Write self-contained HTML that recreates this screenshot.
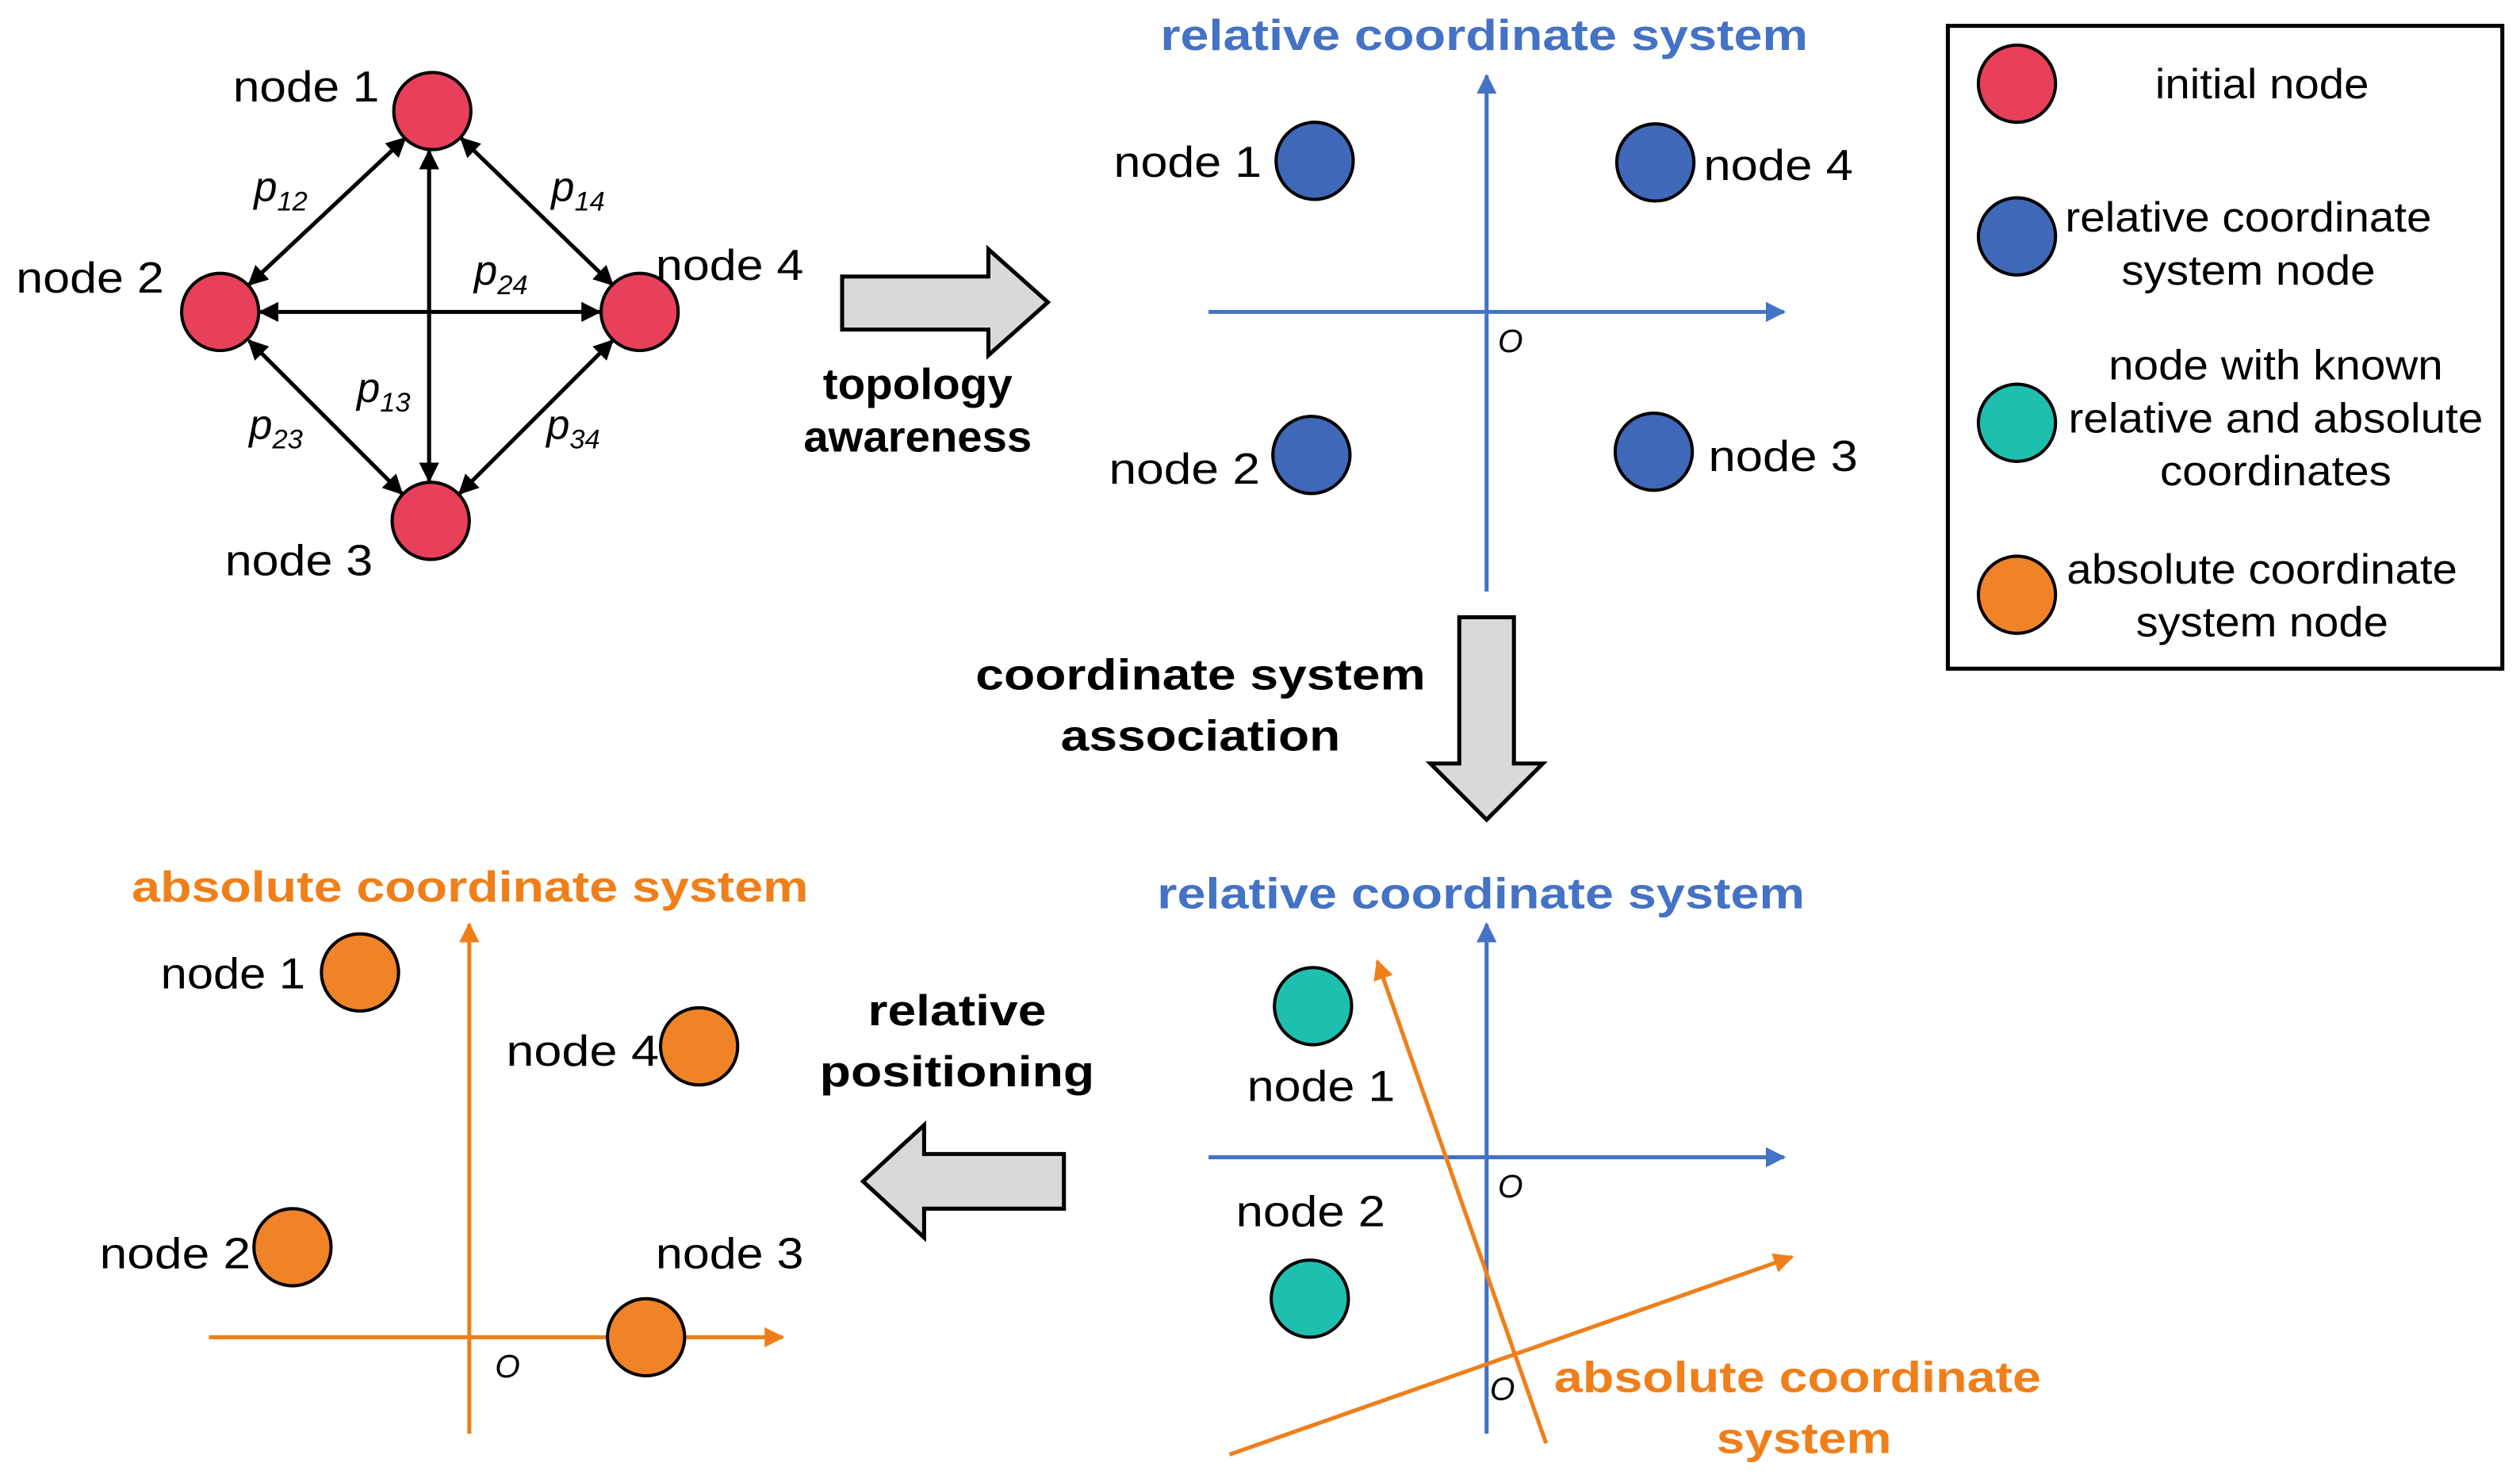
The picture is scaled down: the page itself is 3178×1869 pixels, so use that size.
<!DOCTYPE html>
<html><head><meta charset="utf-8"><style>
html,body{margin:0;padding:0;background:#fff}
svg{display:block}
text{font-family:"Liberation Sans",sans-serif}
.n{font-size:27px;fill:#000}
.p{font-family:"Liberation Serif",serif;font-style:italic;font-size:26px}
.b{font-weight:bold;font-size:27px}
.o{font-family:"Liberation Sans",sans-serif;font-style:italic;font-size:20px}
.lg{font-size:26px}
</style></head><body>
<svg width="3178" height="1869" viewBox="0 0 1568 922" xmlns="http://www.w3.org/2000/svg">
<defs>
<marker id="ak" viewBox="0 0 10 10" refX="9" refY="5" markerWidth="5" markerHeight="5" orient="auto-start-reverse"><path d="M0,0L10,5L0,10z" fill="#000"/></marker>
<marker id="ab" viewBox="0 0 10 10" refX="9" refY="5" markerWidth="5" markerHeight="5" orient="auto"><path d="M0,0L10,5L0,10z" fill="#4472c4"/></marker>
<marker id="ao" viewBox="0 0 10 10" refX="9" refY="5" markerWidth="5" markerHeight="5" orient="auto"><path d="M0,0L10,5L0,10z" fill="#ef7f1a"/></marker>
</defs>
<g stroke="#000" stroke-width="2.5" marker-start="url(#ak)" marker-end="url(#ak)">
<line x1="252" y1="86" x2="155" y2="177"/>
<line x1="287" y1="86" x2="381" y2="177"/>
<line x1="267" y1="94" x2="267" y2="299"/>
<line x1="162" y1="194" x2="373" y2="194"/>
<line x1="155" y1="212" x2="250" y2="307"/>
<line x1="381" y1="212" x2="286" y2="307"/>
</g>
<g fill="#e8405a" stroke="#000" stroke-width="2">
<circle cx="269" cy="69" r="24"/><circle cx="137" cy="194" r="24"/>
<circle cx="398" cy="194" r="24"/><circle cx="268" cy="324" r="24"/>
</g>
<g class="p">
<text x="158" y="125">p<tspan font-size="17" dy="6">12</tspan></text>
<text x="343" y="125">p<tspan font-size="17" dy="6">14</tspan></text>
<text x="295" y="177">p<tspan font-size="17" dy="6">24</tspan></text>
<text x="222" y="250">p<tspan font-size="17" dy="6">13</tspan></text>
<text x="155" y="273">p<tspan font-size="17" dy="6">23</tspan></text>
<text x="340" y="273">p<tspan font-size="17" dy="6">34</tspan></text>
</g>
<text class="n" x="145" y="63" textLength="91" lengthAdjust="spacingAndGlyphs">node 1</text>
<text class="n" x="10" y="182" textLength="92" lengthAdjust="spacingAndGlyphs">node 2</text>
<text class="n" x="408" y="174" textLength="92" lengthAdjust="spacingAndGlyphs">node 4</text>
<text class="n" x="140" y="358" textLength="92" lengthAdjust="spacingAndGlyphs">node 3</text>
<path d="M524,172H615V155L652,188L615,221V205H524Z" fill="#d9d9d9" stroke="#000" stroke-width="2.5"/>
<text class="b" x="512" y="248" textLength="118" lengthAdjust="spacingAndGlyphs">topology</text>
<text class="b" x="500" y="281" textLength="142" lengthAdjust="spacingAndGlyphs">awareness</text>
<text class="b" x="722" y="31" textLength="403" lengthAdjust="spacingAndGlyphs" fill="#4472c4" font-size="30">relative coordinate system</text>
<line x1="925" y1="368" x2="925" y2="47" stroke="#4472c4" stroke-width="2.5" marker-end="url(#ab)"/>
<line x1="752" y1="194" x2="1110" y2="194" stroke="#4472c4" stroke-width="2.5" marker-end="url(#ab)"/>
<text class="o" x="932" y="219">O</text>
<g fill="#4068b8" stroke="#000" stroke-width="2">
<circle cx="818" cy="100" r="24"/><circle cx="1030" cy="101" r="24"/>
<circle cx="816" cy="283" r="24"/><circle cx="1029" cy="281" r="24"/>
</g>
<text class="n" x="693" y="110" textLength="92" lengthAdjust="spacingAndGlyphs">node 1</text>
<text class="n" x="1060" y="112" textLength="93" lengthAdjust="spacingAndGlyphs">node 4</text>
<text class="n" x="690" y="301" textLength="94" lengthAdjust="spacingAndGlyphs">node 2</text>
<text class="n" x="1063" y="293" textLength="93" lengthAdjust="spacingAndGlyphs">node 3</text>
<rect x="1212" y="16" width="345" height="400" fill="none" stroke="#000" stroke-width="2.5"/>
<circle cx="1255" cy="52" r="24" fill="#e8405a" stroke="#000" stroke-width="2"/>
<circle cx="1255" cy="147" r="24" fill="#4068b8" stroke="#000" stroke-width="2"/>
<circle cx="1255" cy="263" r="24" fill="#1fbfb0" stroke="#000" stroke-width="2"/>
<circle cx="1255" cy="370" r="24" fill="#f08328" stroke="#000" stroke-width="2"/>
<g class="lg">
<text x="1341" y="61" textLength="133" lengthAdjust="spacingAndGlyphs">initial node</text>
<text x="1285" y="144" textLength="228" lengthAdjust="spacingAndGlyphs">relative coordinate</text>
<text x="1320" y="177" textLength="158" lengthAdjust="spacingAndGlyphs">system node</text>
<text x="1312" y="236" textLength="208" lengthAdjust="spacingAndGlyphs">node with known</text>
<text x="1287" y="269" textLength="258" lengthAdjust="spacingAndGlyphs">relative and absolute</text>
<text x="1344" y="302" textLength="144" lengthAdjust="spacingAndGlyphs">coordinates</text>
<text x="1286" y="363" textLength="243" lengthAdjust="spacingAndGlyphs">absolute coordinate</text>
<text x="1329" y="396" textLength="157" lengthAdjust="spacingAndGlyphs">system node</text>
</g>
<path d="M908,384H942V475H960L925,510L890,475H908Z" fill="#d9d9d9" stroke="#000" stroke-width="2.5"/>
<text class="b" x="607" y="429" textLength="280" lengthAdjust="spacingAndGlyphs">coordinate system</text>
<text class="b" x="660" y="467" textLength="174" lengthAdjust="spacingAndGlyphs">association</text>
<text class="b" x="720" y="565" textLength="403" lengthAdjust="spacingAndGlyphs" fill="#4472c4" font-size="30">relative coordinate system</text>
<line x1="925" y1="892" x2="925" y2="575" stroke="#4472c4" stroke-width="2.5" marker-end="url(#ab)"/>
<line x1="752" y1="720" x2="1110" y2="720" stroke="#4472c4" stroke-width="2.5" marker-end="url(#ab)"/>
<text class="o" x="932" y="745">O</text>
<line x1="962" y1="898" x2="857" y2="598" stroke="#ef7f1a" stroke-width="2.5" marker-end="url(#ao)"/>
<line x1="765" y1="905" x2="1115" y2="782" stroke="#ef7f1a" stroke-width="2.5" marker-end="url(#ao)"/>
<text class="o" x="927" y="871">O</text>
<g fill="#1fbfb0" stroke="#000" stroke-width="2">
<circle cx="817" cy="626" r="24"/><circle cx="815" cy="808" r="24"/>
</g>
<text class="n" x="776" y="685" textLength="92" lengthAdjust="spacingAndGlyphs">node 1</text>
<text class="n" x="769" y="763" textLength="93" lengthAdjust="spacingAndGlyphs">node 2</text>
<text class="b" x="967" y="866" textLength="303" lengthAdjust="spacingAndGlyphs" fill="#ef7f1a" font-size="30">absolute coordinate</text>
<text class="b" x="1068" y="904" textLength="109" lengthAdjust="spacingAndGlyphs" fill="#ef7f1a" font-size="30">system</text>
<path d="M662,718V752H575V770L537,735L575,700V718Z" fill="#d9d9d9" stroke="#000" stroke-width="2.5"/>
<text class="b" x="540" y="638" textLength="111" lengthAdjust="spacingAndGlyphs">relative</text>
<text class="b" x="510" y="676" textLength="171" lengthAdjust="spacingAndGlyphs">positioning</text>
<text class="b" x="82" y="561" textLength="421" lengthAdjust="spacingAndGlyphs" fill="#ef7f1a" font-size="30">absolute coordinate system</text>
<line x1="292" y1="892" x2="292" y2="575" stroke="#ef7f1a" stroke-width="2.5" marker-end="url(#ao)"/>
<line x1="130" y1="832" x2="487" y2="832" stroke="#ef7f1a" stroke-width="2.5" marker-end="url(#ao)"/>
<text class="o" x="308" y="857">O</text>
<g fill="#f08328" stroke="#000" stroke-width="2">
<circle cx="224" cy="605" r="24"/><circle cx="435" cy="651" r="24"/>
<circle cx="182" cy="776" r="24"/><circle cx="402" cy="832" r="24"/>
</g>
<text class="n" x="100" y="615" textLength="90" lengthAdjust="spacingAndGlyphs">node 1</text>
<text class="n" x="315" y="663" textLength="95" lengthAdjust="spacingAndGlyphs">node 4</text>
<text class="n" x="62" y="789" textLength="94" lengthAdjust="spacingAndGlyphs">node 2</text>
<text class="n" x="408" y="789" textLength="92" lengthAdjust="spacingAndGlyphs">node 3</text>
</svg>
</body></html>
